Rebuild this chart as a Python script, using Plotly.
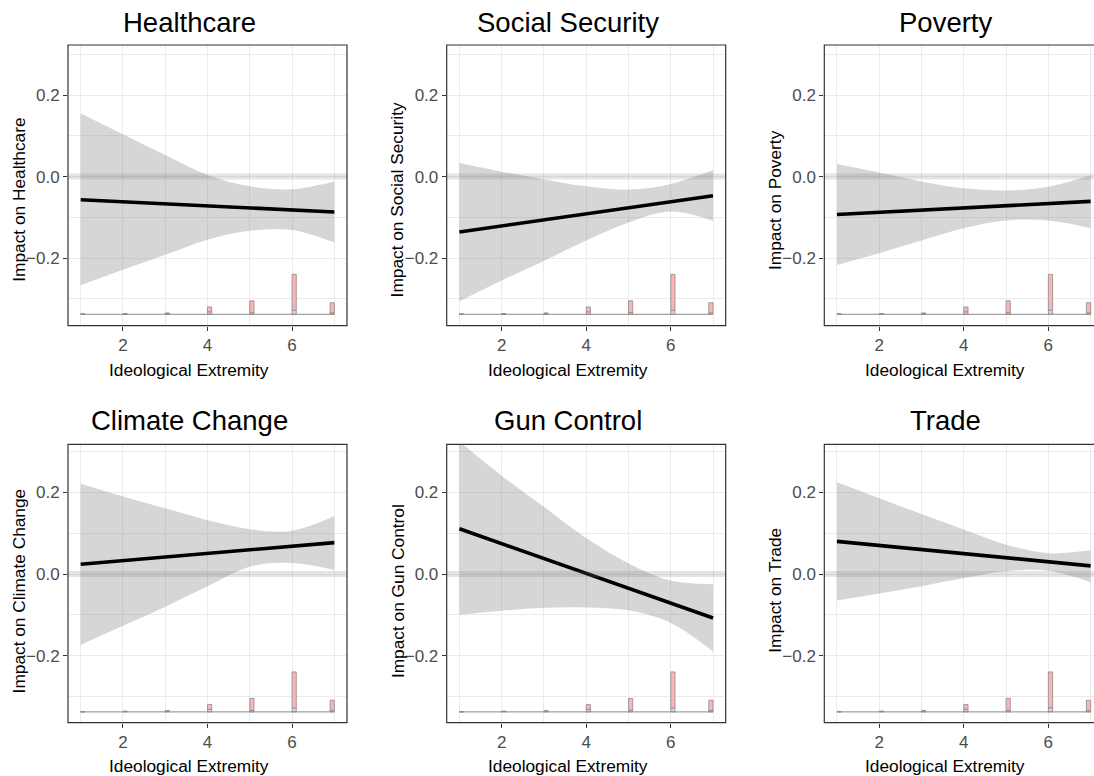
import plotly.graph_objects as go

# ---------------- data ----------------
x_vals = [1, 2, 3, 4, 5, 6, 7]
panel_names = ["Healthcare", "Social Security", "Poverty",
               "Climate Change", "Gun Control", "Trade"]

# estimated marginal effect line: value at x=1 and x=7
est_healthcare = [-0.057, -0.087]
est_social = [-0.136, -0.047]
est_poverty = [-0.093, -0.061]
est_climate = [0.024, 0.077]
est_gun = [0.111, -0.108]
est_trade = [0.080, 0.020]

# confidence band (upper / lower) at x = 1..7
upper_healthcare = [0.155, 0.104, 0.053, 0.004, -0.024, -0.031, -0.012]
lower_healthcare = [-0.267, -0.229, -0.192, -0.155, -0.133, -0.131, -0.162]
upper_social = [0.033, 0.012, -0.007, -0.024, -0.032, -0.018, 0.016]
lower_social = [-0.306, -0.255, -0.207, -0.157, -0.113, -0.086, -0.109]
upper_poverty = [0.031, 0.010, -0.012, -0.029, -0.034, -0.025, 0.003]
lower_poverty = [-0.217, -0.188, -0.157, -0.127, -0.108, -0.108, -0.127]
upper_climate = [0.221, 0.190, 0.161, 0.132, 0.110, 0.106, 0.142]
lower_climate = [-0.174, -0.127, -0.080, -0.030, 0.018, 0.027, 0.010]
upper_gun = [0.325, 0.241, 0.165, 0.088, 0.026, -0.016, -0.025]
lower_gun = [-0.100, -0.090, -0.083, -0.082, -0.089, -0.120, -0.190]
upper_trade = [0.225, 0.186, 0.147, 0.109, 0.072, 0.051, 0.058]
lower_trade = [-0.065, -0.048, -0.030, -0.010, 0.007, 0.008, -0.020]

# distribution histogram of the moderator (bin left edges, heights in y-units)
hist_left = [1.0, 2.0, 3.0, 4.0, 5.0, 6.0, 6.9]
hist_control = [0.0005, 0.001, 0.0025, 0.006, 0.004, 0.010, 0.0035]
hist_treated = [0.0, 0.0008, 0.0, 0.012, 0.029, 0.088, 0.025]
hist_base = -0.338

x_ticks = [2, 4, 6]
y_ticks = [-0.2, 0.0, 0.2]

ests = [est_healthcare, est_social, est_poverty, est_climate, est_gun, est_trade]
uppers = [upper_healthcare, upper_social, upper_poverty, upper_climate, upper_gun, upper_trade]
lowers = [lower_healthcare, lower_social, lower_poverty, lower_climate, lower_gun, lower_trade]

# ---------------- layout geometry (pixels) ----------------
W, H = 1094, 776
col_left = [68.0, 446.7, 824.3]
panel_w = 279.0
row_top = [45.0, 444.3]
row_bot = [325.7, 722.7]
y_ranges = [[-0.366, 0.3228], [-0.3645, 0.318]]
title_y = [22.5, 420.9]
xtitle_y = [369.7, 766.4]
ytitle_y = [200.0, 590.7]

FONT = "Liberation Sans, Arial, Helvetica, sans-serif"
fig = go.Figure()
shapes = []
annotations = []

for i, name in enumerate(panel_names):
    r, c = divmod(i, 3)
    k = i + 1
    xa = "x" if k == 1 else f"x{k}"
    ya = "y" if k == 1 else f"y{k}"
    left = col_left[c]
    right = min(left + panel_w, W)
    px_per_unit = panel_w / 6.6
    x_range = [0.7, 0.7 + (right - left) / px_per_unit]

    # confidence band
    fig.add_trace(go.Scatter(x=x_vals, y=lowers[i], mode="lines",
                             line=dict(width=0, shape="spline", smoothing=1.0),
                             xaxis=xa, yaxis=ya, hoverinfo="skip"))
    fig.add_trace(go.Scatter(x=x_vals, y=uppers[i], mode="lines",
                             line=dict(width=0, shape="spline", smoothing=1.0),
                             fill="tonexty", fillcolor="rgba(127,127,127,0.32)",
                             xaxis=xa, yaxis=ya, hoverinfo="skip"))
    # estimate line
    fig.add_trace(go.Scatter(x=[x_vals[0], x_vals[-1]], y=ests[i], mode="lines",
                             line=dict(color="black", width=3.6),
                             xaxis=xa, yaxis=ya))
    # histogram baseline
    fig.add_trace(go.Scatter(x=[x_vals[0], x_vals[-1]], y=[hist_base, hist_base],
                             mode="lines", line=dict(color="#8a8a8a", width=1),
                             xaxis=xa, yaxis=ya))
    # histogram bars (control at bottom, treated stacked above)
    fig.add_trace(go.Bar(x=hist_left, y=hist_control, base=[hist_base] * len(hist_left),
                         width=0.1, offset=0,
                         marker=dict(color="#d9d9d9", line=dict(color="#8a8a8a", width=0.8)),
                         xaxis=xa, yaxis=ya))
    fig.add_trace(go.Bar(x=hist_left, y=hist_treated,
                         base=[hist_base + v for v in hist_control],
                         width=0.1, offset=0,
                         marker=dict(color="#ffb3b3", line=dict(color="#8a8a8a", width=0.8)),
                         xaxis=xa, yaxis=ya))

    dom_x = [left / W, right / W]
    dom_y = [1 - row_bot[r] / H, 1 - row_top[r] / H]
    axis_common = dict(showgrid=True, gridcolor="#EBEBEB", gridwidth=1.3,
                       zeroline=False, showline=False,
                       ticks="outside", ticklen=4, tickwidth=1.1, tickcolor="#333333",
                       tickfont=dict(family=FONT, size=17, color="#4D4D4D"))
    fig.layout[f"xaxis{'' if k == 1 else k}"] = dict(
        domain=dom_x, range=x_range, anchor=ya, tickmode="array", tickvals=x_ticks,
        minor=dict(tickvals=[1, 3, 5, 7], showgrid=True, gridcolor="#EBEBEB", gridwidth=0.8,
                   ticks=""),
        **axis_common)
    fig.layout[f"yaxis{'' if k == 1 else k}"] = dict(
        domain=dom_y, range=y_ranges[r], anchor=xa, tickmode="array", tickvals=y_ticks,
        tickformat=".1f",
        minor=dict(tickvals=[-0.3, -0.1, 0.1, 0.3], showgrid=True, gridcolor="#EBEBEB",
                   gridwidth=0.8, ticks=""),
        **axis_common)

    # zero reference band
    shapes.append(dict(type="line", xref="paper", yref=ya,
                       x0=left / W, x1=min(left + panel_w, W) / W, y0=0, y1=0,
                       line=dict(color="rgba(127,127,127,0.2)", width=6), layer="above"))
    # panel border
    shapes.append(dict(type="rect", xref="paper", yref="paper",
                       x0=left / W, x1=(left + panel_w) / W, y0=dom_y[0], y1=dom_y[1],
                       line=dict(color="#333333", width=1.2), layer="above"))

    cx = (left + panel_w / 2 - 18.5) / W
    annotations.append(dict(text=name, x=cx, y=1 - title_y[r] / H, xref="paper", yref="paper",
                            xanchor="center", yanchor="middle", showarrow=False,
                            font=dict(family=FONT, size=27.5, color="black")))
    annotations.append(dict(text="Ideological Extremity", x=cx, y=1 - xtitle_y[r] / H,
                            xref="paper", yref="paper", xanchor="center", yanchor="middle",
                            showarrow=False, font=dict(family=FONT, size=17.3, color="black")))
    annotations.append(dict(text=f"Impact on {name}", x=(left - 49.3) / W,
                            y=1 - ytitle_y[r] / H, xref="paper", yref="paper",
                            xanchor="center", yanchor="middle", textangle=-90,
                            showarrow=False, font=dict(family=FONT, size=17.3, color="black")))

fig.update_layout(width=W, height=H, margin=dict(l=0, r=0, t=0, b=0),
                  paper_bgcolor="white", plot_bgcolor="white", showlegend=False,
                  barmode="overlay", shapes=shapes, annotations=annotations,
                  font=dict(family=FONT))
fig.write_html("out.html", config={"displayModeBar": False},
               post_script="document.body.style.margin='0';document.body.style.overflow='hidden';")
